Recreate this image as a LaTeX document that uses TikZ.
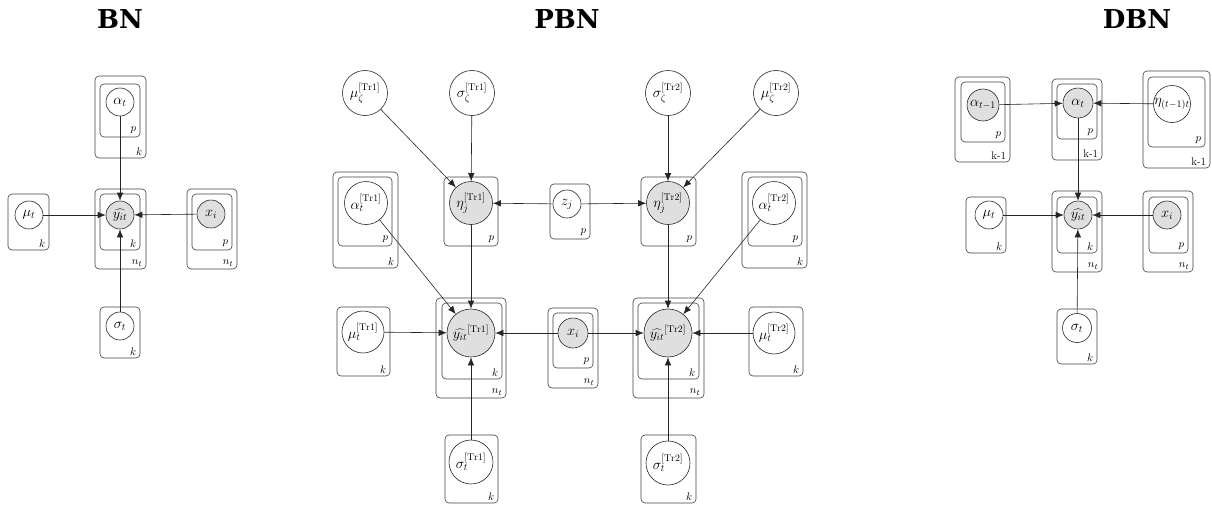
\documentclass[tikz,border=0pt]{standalone}
\usepackage{fontspec}
\newfontfamily\titlefont{DejaVu Serif}
\usetikzlibrary{arrows.meta,fit}
\tikzset{
  rv/.style={circle, draw=black!85, line width=0.6pt, inner sep=0pt, fill=white, minimum size=#1, font=\fontsize{14}{16}\selectfont},
  rv/.default=28pt,
  obs/.style={rv=#1, fill=gray!25},
  obs/.default=28pt,
  plate/.style={draw=black!75, rounded corners=4pt, line width=0.6pt, inner sep=0pt},
  plbl/.style={anchor=south east, inner xsep=4pt, inner ysep=3pt, font=\fontsize{11}{13}\selectfont},
  edge/.style={-{Latex[length=8pt,width=6.5pt]}, line width=0.6pt, draw=black!85},
  ttl/.style={font=\titlefont\bfseries\fontsize{26}{28}\selectfont}
}
\newcommand\platebox[6]{%
  \node[plate, fit={(#2,#3) (#4,#5)}] (#1) {};
  \node[plbl] (#1-l) at (#1.south east) {#6};}
\begin{document}
\begin{tikzpicture}[x=1pt,y=-1pt]
\useasboundingbox (0,0) rectangle (1212,504);
% ---------------- BN ----------------
\node[ttl] (tBN) at (120,19) {BN};
\platebox{bnAo}{95}{76}{146}{158}{$k$}
\platebox{bnAi}{100}{84}{140}{137}{$p$}
\platebox{bnYo}{95}{189}{146}{269}{$n_t$}
\platebox{bnYi}{100}{194}{140}{250}{$k$}
\platebox{bnM}{8}{194}{49}{250}{$k$}
\platebox{bnXo}{187}{189}{237}{269}{$n_t$}
\platebox{bnXi}{192}{194}{232}{250}{$p$}
\platebox{bnS}{100}{307}{140}{358}{$k$}
\node[rv] (bnA) at (120,102) {$\alpha_t$};
\node[obs] (bnY) at (120,215) {$\widehat{y_{it}}$};
\node[rv] (bnMu) at (29,215) {$\mu_t$};
\node[obs] (bnX) at (211,214) {$x_i$};
\node[rv] (bnSig) at (120,326) {$\sigma_t$};
\draw[edge] (bnA) -- (bnY);
\draw[edge] (bnMu) -- (bnY);
\draw[edge] (bnX) -- (bnY);
\draw[edge] (bnSig) -- (bnY);
% ---------------- PBN ----------------
\node[ttl] (tPBN) at (567,19) {PBN};
\platebox{pAo1}{333}{172}{398}{268}{$k$}
\platebox{pAi1}{338}{177}{392}{246}{$p$}
\platebox{pE1}{444}{177}{498}{246}{$p$}
\platebox{pZ}{550}{184}{590}{239}{$p$}
\platebox{pE2}{641}{177}{696}{246}{$p$}
\platebox{pAo2}{742}{172}{807}{268}{$k$}
\platebox{pAi2}{748}{177}{802}{246}{$p$}
\platebox{pYo1}{436}{298}{506}{398}{$n_t$}
\platebox{pYi1}{442}{303}{502}{379}{$k$}
\platebox{pM1}{337}{307}{390}{376}{$k$}
\platebox{pXo}{548}{308}{598}{388}{$n_t$}
\platebox{pXi}{553}{313}{593}{368}{$p$}
\platebox{pYo2}{633}{298}{704}{398}{$n_t$}
\platebox{pYi2}{638}{303}{699}{379}{$k$}
\platebox{pM2}{749}{307}{803}{376}{$k$}
\platebox{pS1}{445}{435}{498}{503}{$k$}
\platebox{pS2}{641}{435}{696}{503}{$k$}
\node[rv=45pt] (pMz1) at (365,93) {$\mu_\zeta^{[\mathrm{Tr1}]}$};
\node[rv=45pt] (pSz1) at (472,93) {$\sigma_\zeta^{[\mathrm{Tr1}]}$};
\node[rv=45pt] (pSz2) at (668,93) {$\sigma_\zeta^{[\mathrm{Tr2}]}$};
\node[rv=45pt] (pMz2) at (776,93) {$\mu_\zeta^{[\mathrm{Tr2}]}$};
\node[rv=43pt] (pA1) at (366,203) {$\alpha_t^{[\mathrm{Tr1}]}$};
\node[obs=43pt] (pEta1) at (471,203) {$\eta_j^{[\mathrm{Tr1}]}$};
\node[rv] (pZj) at (567,204) {$z_j$};
\node[obs=43pt] (pEta2) at (668,203) {$\eta_j^{[\mathrm{Tr2}]}$};
\node[rv=43pt] (pA2) at (774,203) {$\alpha_t^{[\mathrm{Tr2}]}$};
\node[rv=42pt] (pMu1) at (363,332) {$\mu_t^{[\mathrm{Tr1}]}$};
\node[obs=48pt] (pY1) at (471,333) {$\widehat{y_{it}}^{[\mathrm{Tr1}]}$};
\node[obs=30pt] (pX) at (573,333) {$x_i$};
\node[obs=48pt] (pY2) at (668,333) {$\widehat{y_{it}}^{[\mathrm{Tr2}]}$};
\node[rv=42pt] (pMu2) at (774,333) {$\mu_t^{[\mathrm{Tr2}]}$};
\node[rv=44pt] (pSig1) at (471,462) {$\sigma_t^{[\mathrm{Tr1}]}$};
\node[rv=44pt] (pSig2) at (668,463) {$\sigma_t^{[\mathrm{Tr2}]}$};
\draw[edge] (pMz1) -- (pEta1);
\draw[edge] (pSz1) -- (pEta1);
\draw[edge] (pZj) -- (pEta1);
\draw[edge] (pZj) -- (pEta2);
\draw[edge] (pSz2) -- (pEta2);
\draw[edge] (pMz2) -- (pEta2);
\draw[edge] (pEta1) -- (pY1);
\draw[edge] (pA1) -- (pY1);
\draw[edge] (pMu1) -- (pY1);
\draw[edge] (pX) -- (pY1);
\draw[edge] (pSig1) -- (pY1);
\draw[edge] (pEta2) -- (pY2);
\draw[edge] (pA2) -- (pY2);
\draw[edge] (pMu2) -- (pY2);
\draw[edge] (pX) -- (pY2);
\draw[edge] (pSig2) -- (pY2);
% ---------------- DBN ----------------
\node[ttl] (tDBN) at (1137,19) {DBN};
\platebox{dAPo}{955}{77}{1010}{162}{k-1}
\platebox{dAPi}{961}{82}{1005}{142}{$p$}
\platebox{dAo}{1052}{79}{1102}{160}{k-1}
\platebox{dAi}{1057}{84}{1097}{139}{$p$}
\platebox{dEo}{1143}{71}{1210}{168}{k-1}
\platebox{dEi}{1148}{77}{1205}{147}{$p$}
\platebox{dYo}{1052}{191}{1102}{272}{$n_t$}
\platebox{dYi}{1057}{197}{1097}{253}{$k$}
\platebox{dM}{966}{197}{1006}{253}{$k$}
\platebox{dXo}{1143}{191}{1193}{272}{$n_t$}
\platebox{dXi}{1149}{197}{1188}{253}{$p$}
\platebox{dS}{1057}{309}{1097}{364}{$k$}
\node[obs=32pt] (dAp) at (983,105) {$\alpha_{t-1}$};
\node[obs=30pt] (dA) at (1078,103) {$\alpha_t$};
\node[rv=37pt] (dEta) at (1172,104) {$\eta_{(t-1)t}$};
\node[obs] (dY) at (1078,215) {$\widehat{y_{it}}$};
\node[rv] (dMu) at (989,215) {$\mu_t$};
\node[obs] (dX) at (1167,215) {$x_i$};
\node[rv=29pt] (dSig) at (1077,328) {$\sigma_t$};
\draw[edge] (dAp) -- (dA);
\draw[edge] (dEta) -- (dA);
\draw[edge] (dA) -- (dY);
\draw[edge] (dMu) -- (dY);
\draw[edge] (dX) -- (dY);
\draw[edge] (dSig) -- (dY);
\end{tikzpicture}
\end{document}
